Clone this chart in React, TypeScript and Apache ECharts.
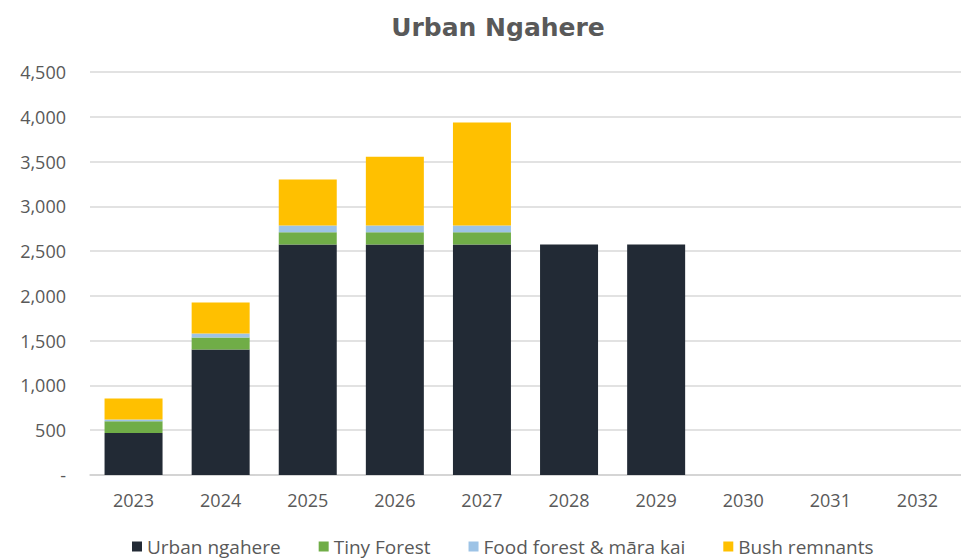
import React, { useEffect, useRef } from "react";
import * as echarts from "echarts";

const years = ["2023", "2024", "2025", "2026", "2027", "2028", "2029", "2030", "2031", "2032"];
const urbanNgahere = [470, 1400, 2575, 2575, 2575, 2575, 2575, 0, 0, 0];
const tinyForest = [130, 135, 135, 135, 135, 0, 0, 0, 0, 0];
const foodForest = [20, 45, 75, 75, 75, 0, 0, 0, 0, 0];
const bushRemnants = [235, 345, 515, 770, 1150, 0, 0, 0, 0, 0];
const yTicks = { min: 0, max: 4500, interval: 500 };

const FONT = "'Open Sans', Roboto, sans-serif";
const TEXT = "#595959";

export default function App() {
  const ref = useRef<HTMLDivElement>(null);
  useEffect(() => {
    if (!ref.current) return;
    const chart = echarts.init(ref.current, null, { renderer: "svg" });
    const mk = (name: string, data: number[], color: string) => ({
      name,
      type: "bar",
      stack: "total",
      data: data.map((v) => (v === 0 ? null : v)),
      barWidth: 58,
      itemStyle: { color },
    });
    chart.setOption({
      animation: false,
      textStyle: { fontFamily: FONT },
      graphic: [
        {
          type: "text",
          x: 498,
          y: 27,
          style: {
            text: "Urban Ngahere",
            fontFamily: "'DejaVu Sans', sans-serif",
            fontWeight: "bold",
            fontSize: 25,
            fill: TEXT,
            align: "center",
            verticalAlign: "middle",
          },
        },
      ],
      legend: {
        top: 532,
        left: 127,
        itemWidth: 10,
        itemHeight: 10,
        itemGap: 38,
        icon: "rect",
        textStyle: { color: TEXT, fontSize: 19, fontFamily: FONT },
        data: ["Urban ngahere", "Tiny Forest", "Food forest & māra kai", "Bush remnants"],
      },
      grid: { left: 90, width: 882, top: 72, height: 403, containLabel: false },
      xAxis: {
        type: "category",
        data: years,
        axisLine: { lineStyle: { color: "#d0d0d0", width: 1.5 } },
        axisTick: { show: false },
        axisLabel: { color: TEXT, fontSize: 18, margin: 16, fontFamily: FONT },
      },
      yAxis: {
        type: "value",
        min: yTicks.min,
        max: yTicks.max,
        interval: yTicks.interval,
        axisLine: { show: false },
        axisTick: { show: false },
        splitLine: { lineStyle: { color: "#d9d9d9", width: 1.5 } },
        axisLabel: {
          color: TEXT,
          fontSize: 18,
          margin: 24,
          fontFamily: FONT,
          formatter: (v: number) => (v === 0 ? "-" : v.toLocaleString("en-US")),
        },
      },
      series: [
        mk("Urban ngahere", urbanNgahere, "#222a35"),
        mk("Tiny Forest", tinyForest, "#70ad47"),
        mk("Food forest & māra kai", foodForest, "#9dc3e6"),
        mk("Bush remnants", bushRemnants, "#ffc000"),
      ],
    });
    return () => chart.dispose();
  }, []);
  return (
    <div
      ref={ref}
      style={{ position: "absolute", left: 0, top: 0, width: 961, height: 559, background: "#fff", overflow: "hidden" }}
    />
  );
}
